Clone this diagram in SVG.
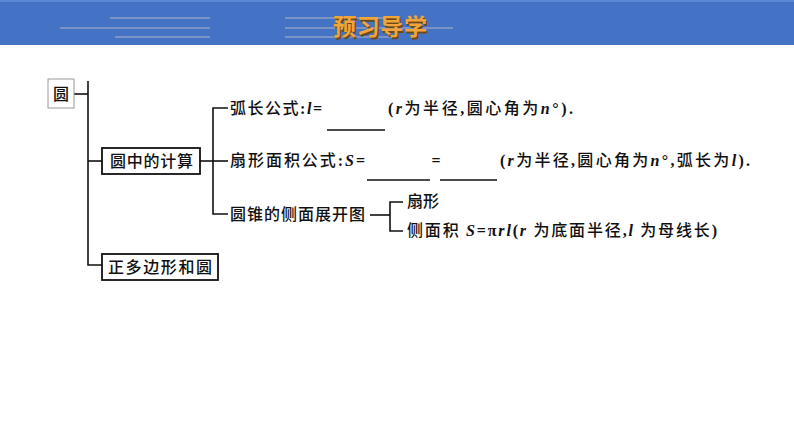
<svg xmlns="http://www.w3.org/2000/svg" width="794" height="447" viewBox="0 0 794 447">
<style>
.t{font-family:"Noto Sans CJK SC","Liberation Serif",serif;font-size:16px;fill:#111;font-weight:500}
.i{font-family:"Liberation Serif",serif;font-style:italic;font-weight:bold}
.m{font-family:"Liberation Serif",serif;font-weight:bold}
.ln{stroke:#111;stroke-width:1.6;fill:none}
.box{fill:#fff;stroke:#111;stroke-width:1.8}
.hl{stroke:#8f9fc6;stroke-width:1.5}
.title{font-family:"Noto Sans CJK SC",sans-serif;font-size:23px;font-weight:bold}
</style>
<rect width="794" height="447" fill="#fff"/>
<g id="header">
<rect x="0" y="0" width="794" height="45" fill="#4472C4"/>
<rect x="0" y="0" width="794" height="2" fill="#5a88d6"/>
<line class="hl" x1="110" y1="18" x2="210" y2="18"/>
<line class="hl" x1="60" y1="28" x2="210" y2="28"/>
<line class="hl" x1="115" y1="37" x2="210" y2="37"/>
<line class="hl" x1="285" y1="18" x2="395" y2="18"/>
<line class="hl" x1="285" y1="28" x2="453" y2="28"/>
<line class="hl" x1="285" y1="37" x2="393" y2="37"/>
<text class="title" x="381.5" y="36.5" text-anchor="middle" fill="#6b4a1a" textLength="94">预习导学</text>
<text class="title" x="380" y="35" text-anchor="middle" fill="#F2A43A" textLength="94">预习导学</text>
</g>
<g id="connectors">
<line class="ln" x1="74" y1="94" x2="88" y2="94"/>
<polyline class="ln" points="88,81 88,265 102,265"/>
<line class="ln" x1="88" y1="161" x2="102" y2="161"/>
<line class="ln" x1="200" y1="161" x2="228" y2="161"/>
<polyline class="ln" points="228,108 213,108 213,214 228,214"/>
<line class="ln" x1="370" y1="215" x2="390" y2="215"/>
<polyline class="ln" points="403,202 390,202 390,231 403,231"/>
</g>
<g id="n-yuan">
<rect x="48" y="79" width="26" height="29" fill="#fff" stroke="#999" stroke-width="1"/>
<text class="t" x="61" y="100" text-anchor="middle" font-weight="bold">圆</text>
</g>
<g id="n-calc">
<rect class="box" x="102" y="148" width="98" height="26"/>
<text class="t" x="110" y="167" textLength="83">圆中的计算</text>
</g>
<g id="n-poly">
<rect class="box" x="102" y="254" width="116" height="26"/>
<text class="t" x="108" y="273" textLength="104">正多边形和圆</text>
</g>
<g id="n-arc">
<text class="t" x="230" y="114" textLength="92">弧长公式<tspan class="m">:</tspan><tspan class="i">l</tspan><tspan class="m">=</tspan></text>
<line class="ln" x1="327" y1="130" x2="385" y2="130"/>
<text class="t" x="388" y="114" textLength="185"><tspan class="m">(</tspan><tspan class="i">r</tspan>为半径<tspan class="m">,</tspan>圆心角为<tspan class="i">n</tspan><tspan class="m">°).</tspan></text>
</g>
<g id="n-sector">
<text class="t" x="230" y="166" textLength="135">扇形面积公式<tspan class="m">:</tspan><tspan class="i">S</tspan><tspan class="m">=</tspan></text>
<line class="ln" x1="367" y1="180" x2="430" y2="180"/>
<text class="t m" x="436" y="166" text-anchor="middle">=</text>
<line class="ln" x1="440" y1="180" x2="497" y2="180"/>
<text class="t" x="500" y="166" textLength="250"><tspan class="m">(</tspan><tspan class="i">r</tspan>为半径<tspan class="m">,</tspan>圆心角为<tspan class="i">n</tspan><tspan class="m">°,</tspan>弧长为<tspan class="i">l</tspan><tspan class="m">).</tspan></text>
</g>
<g id="n-cone">
<text class="t" x="230" y="220" textLength="135">圆锥的侧面展开图</text>
</g>
<g id="n-fan">
<text class="t" x="407" y="207">扇形</text>
</g>
<g id="n-lateral">
<text class="t" x="407" y="236" textLength="310">侧面积 <tspan class="i">S</tspan><tspan class="m">=π</tspan><tspan class="i">rl</tspan><tspan class="m">(</tspan><tspan class="i">r</tspan> 为底面半径<tspan class="m">,</tspan><tspan class="i">l</tspan> 为母线长<tspan class="m">)</tspan></text>
</g>
</svg>
